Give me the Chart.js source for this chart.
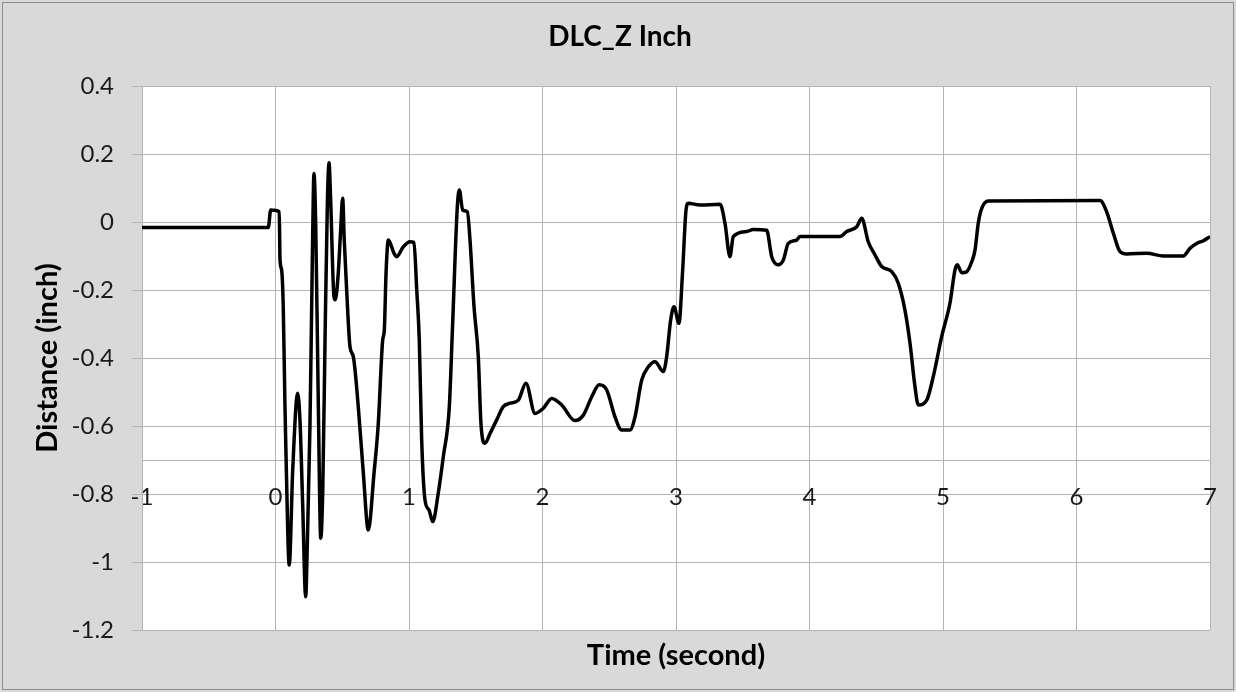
<!DOCTYPE html>
<html>
<head>
<meta charset="utf-8">
<script src="https://cdn.jsdelivr.net/npm/chart.js@4.4.1/dist/chart.umd.min.js"></script>
<style>
  html, body { margin: 0; padding: 0; background: #d9d9d9; }
  #wrap { width: 1236px; height: 692px; position: relative; }
</style>
</head>
<body>
<div id="wrap"><canvas id="grafico" width="1236" height="692"></canvas></div>
<script>
// Datos (tiempo en segundos, distancia en pulgadas)
const timeSec = [
  -1, -0.5, -0.054, -0.036, 0.028, 0.034, 0.046, 0.058, 0.071, 0.079,
  0.103, 0.129, 0.166, 0.184, 0.204, 0.226, 0.238, 0.258, 0.271, 0.279,
  0.288, 0.301, 0.321, 0.339, 0.354, 0.371, 0.388, 0.401, 0.413, 0.438,
  0.448, 0.470, 0.488, 0.503, 0.515, 0.533, 0.558, 0.583, 0.620, 0.658,
  0.695, 0.738, 0.770, 0.803, 0.815, 0.828, 0.845, 0.888, 0.908, 0.957,
  1.007, 1.037, 1.058, 1.077, 1.095, 1.120, 1.150, 1.178, 1.219, 1.257,
  1.302, 1.327, 1.362, 1.377, 1.402, 1.437, 1.457, 1.487, 1.519, 1.539,
  1.569, 1.607, 1.657, 1.706, 1.757, 1.819, 1.876, 1.944, 2.006, 2.069,
  2.144, 2.243, 2.306, 2.369, 2.425, 2.481, 2.543, 2.593, 2.655, 2.693,
  2.743, 2.793, 2.843, 2.905, 2.930, 2.960, 2.985, 3.022, 3.050, 3.075,
  3.092, 3.180, 3.330, 3.367, 3.404, 3.429, 3.530, 3.579, 3.679, 3.717,
  3.766, 3.804, 3.841, 3.904, 3.929, 4.228, 4.279, 4.354, 4.391, 4.440,
  4.491, 4.541, 4.616, 4.665, 4.715, 4.753, 4.790, 4.815, 4.878, 4.927,
  4.990, 5.052, 5.090, 5.107, 5.140, 5.178, 5.215, 5.240, 5.264, 5.290,
  5.339, 6.176, 6.226, 6.276, 6.326, 6.376, 6.526, 6.650, 6.800, 6.850,
  6.900, 6.951, 7.000
];
const distanceInch = [
  -0.016, -0.016, -0.016, 0.035, 0.030, -0.112, -0.141, -0.249, -0.543, -0.690,
  -1.009, -0.729, -0.504, -0.590, -0.837, -1.102, -0.955, -0.602, -0.249, -0.024,
  0.143, -0.003, -0.543, -0.930, -0.788, -0.347, 0.045, 0.174, 0.065, -0.220,
  -0.229, -0.151, -0.024, 0.070, -0.053, -0.200, -0.367, -0.396, -0.543, -0.739,
  -0.906, -0.739, -0.592, -0.347, -0.318, -0.151, -0.053, -0.092, -0.102, -0.073,
  -0.058, -0.060, -0.200, -0.347, -0.641, -0.818, -0.847, -0.881, -0.798, -0.690,
  -0.543, -0.298, 0.045, 0.094, 0.035, 0.030, -0.053, -0.249, -0.396, -0.592,
  -0.651, -0.622, -0.582, -0.543, -0.533, -0.524, -0.474, -0.563, -0.548, -0.519,
  -0.538, -0.584, -0.568, -0.514, -0.479, -0.494, -0.573, -0.612, -0.612, -0.573,
  -0.465, -0.426, -0.411, -0.440, -0.396, -0.288, -0.249, -0.298, -0.141, 0.035,
  0.055, 0.050, 0.052, -0.004, -0.102, -0.043, -0.028, -0.022, -0.024, -0.102,
  -0.126, -0.112, -0.063, -0.053, -0.043, -0.043, -0.028, -0.014, 0.011, -0.058,
  -0.097, -0.131, -0.146, -0.180, -0.259, -0.357, -0.484, -0.538, -0.524, -0.455,
  -0.337, -0.239, -0.141, -0.126, -0.149, -0.146, -0.117, -0.082, -0.004, 0.040,
  0.062, 0.063, 0.030, -0.033, -0.087, -0.094, -0.092, -0.100, -0.100, -0.077,
  -0.063, -0.055, -0.043
];

// Ejes
const ticksX = [-1, 0, 1, 2, 3, 4, 5, 6, 7];
const ticksY = [0.4, 0.2, 0, -0.2, -0.4, -0.6, -0.8, -1, -1.2];
const cruceEjeX = -0.7;

const puntos = timeSec.map((t, i) => ({ x: t, y: distanceInch[i] }));

const colorGrid = '#b4b4b4';
const fuente = 'Lato, "Open Sans", sans-serif';

// Fondo gris, borde exterior y área blanca del gráfico
const fondo = {
  id: 'fondo',
  beforeDraw(chart) {
    const { ctx, chartArea: a, width, height } = chart;
    ctx.save();
    ctx.fillStyle = '#d9d9d9';
    ctx.fillRect(0, 0, width, height);
    ctx.strokeStyle = '#8c8c8c';
    ctx.lineWidth = 1;
    ctx.strokeRect(2.5, 2.5, width - 5, height - 5);
    ctx.fillStyle = '#ffffff';
    ctx.fillRect(a.left, a.top, a.right - a.left, a.bottom - a.top);
    ctx.restore();
  }
};

const ctx = document.getElementById('grafico').getContext('2d');

new Chart(ctx, {
  type: 'line',
  data: {
    datasets: [{
      label: 'DLC_Z',
      data: puntos,
      borderColor: '#000000',
      borderWidth: 3.5,
      pointRadius: 0,
      cubicInterpolationMode: 'monotone',
      fill: false
    }]
  },
  options: {
    responsive: false,
    animation: false,
    layout: { padding: { left: 30, right: 26, top: 0, bottom: 0 } },
    scales: {
      x: {
        type: 'linear',
        min: -1,
        max: 7,
        position: { y: cruceEjeX },
        afterBuildTicks: s => { s.ticks = ticksX.map(v => ({ value: v })); },
        ticks: {
          color: '#1a1a1a',
          font: { family: fuente, size: 24 },
          padding: 0,
          maxRotation: 0,
          callback: v => String(v)
        },
        // marcas invisibles para bajar las etiquetas bajo el eje
        grid: { color: colorGrid, lineWidth: 1, drawTicks: true, tickLength: 23, tickColor: 'rgba(0,0,0,0)' },
        border: { display: true, color: colorGrid, width: 1 }
      },
      y: {
        min: -1.2,
        max: 0.4,
        afterBuildTicks: s => { s.ticks = ticksY.map(v => ({ value: v })); },
        afterFit: s => { s.width = 112; },
        ticks: {
          color: '#1a1a1a',
          font: { family: fuente, size: 24 },
          padding: 18,
          callback: v => String(Number(v.toFixed(1)))
        },
        grid: { color: colorGrid, lineWidth: 1, tickLength: 10 },
        border: { display: true, color: colorGrid, width: 1 },
        title: {
          display: true,
          text: 'Distance (inch)',
          color: '#000000',
          font: { family: fuente, size: 29, weight: 'bold' },
          padding: { top: 0, bottom: 0 }
        }
      }
    },
    plugins: {
      legend: { display: false },
      tooltip: { enabled: false },
      title: {
        display: true,
        text: 'DLC_Z Inch',
        color: '#000000',
        font: { family: fuente, size: 28, weight: 'bold' },
        padding: { top: 20, bottom: 32.4 }
      },
      subtitle: {
        display: true,
        text: 'Time (second)',
        position: 'bottom',
        fullSize: false,
        color: '#000000',
        font: { family: fuente, size: 29, weight: 'bold' },
        padding: { top: 8.6, bottom: 18.6 }
      }
    }
  },
  plugins: [fondo]
});
</script>
</body>
</html>
